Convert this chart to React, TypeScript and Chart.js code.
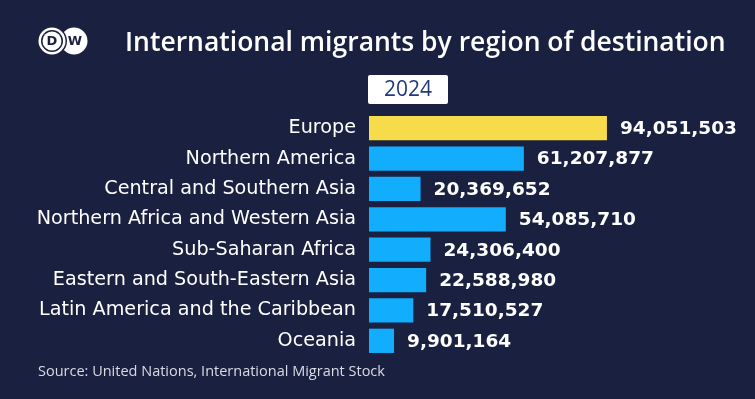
import React, { useEffect, useRef } from "react";
import { Chart, registerables } from "chart.js";

Chart.register(...registerables);

const categories = [
  "Europe",
  "Northern America",
  "Central and Southern Asia",
  "Northern Africa and Western Asia",
  "Sub-Saharan Africa",
  "Eastern and South-Eastern Asia",
  "Latin America and the Caribbean",
  "Oceania",
];
const migrants = [94051503, 61207877, 20369652, 54085710, 24306400, 22588980, 17510527, 9901164];
const highlight = ["Europe"];
const titleText = "International migrants by region of destination";
const yearText = "2024";
const sourceText = "Source: United Nations, International Migrant Stock";

const BG = "#1a2140";
const BLUE = "#12adfd";
const YELLOW = "#f6dc4a";

const decorPlugin = {
  id: "decor",
  beforeDraw(chart: any) {
    const { ctx, width, height } = chart;
    ctx.save();
    ctx.fillStyle = BG;
    ctx.fillRect(0, 0, width, height);
    ctx.restore();
  },
  afterDraw(chart: any) {
    const { ctx } = chart;
    ctx.save();
    // logo
    const cy = 41;
    const r = 13.5;
    const lx = 52;
    const rx = 74;
    ctx.fillStyle = "#ffffff";
    ctx.beginPath();
    ctx.arc(rx, cy, r, 0, Math.PI * 2);
    ctx.fill();
    ctx.fillStyle = BG;
    ctx.beginPath();
    ctx.arc(lx, cy, r + 1.5, 0, Math.PI * 2);
    ctx.fill();
    ctx.fillStyle = "#ffffff";
    ctx.beginPath();
    ctx.arc(lx, cy, r, 0, Math.PI * 2);
    ctx.fill();
    ctx.fillStyle = BG;
    ctx.beginPath();
    ctx.arc(lx, cy, r - 2.5, 0, Math.PI * 2);
    ctx.fill();
    ctx.fillStyle = "#ffffff";
    ctx.beginPath();
    ctx.arc(lx, cy, r - 4, 0, Math.PI * 2);
    ctx.fill();
    ctx.fillStyle = BG;
    ctx.font = "bold 13px 'DejaVu Sans'";
    ctx.textAlign = "center";
    ctx.textBaseline = "middle";
    ctx.fillText("D", lx, cy + 1);
    ctx.fillText("W", rx + 1, cy + 1);

    // title
    ctx.fillStyle = "#ffffff";
    ctx.font = "600 26.5px 'Open Sans'";
    ctx.textAlign = "left";
    ctx.textBaseline = "alphabetic";
    ctx.fillText(titleText, 125, 51);

    // year box
    ctx.fillStyle = "#ffffff";
    ctx.beginPath();
    (ctx as any).roundRect(368, 75, 80, 29, 2);
    ctx.fill();
    ctx.fillStyle = "#213a7c";
    ctx.font = "21px 'Open Sans'";
    ctx.textAlign = "center";
    ctx.textBaseline = "middle";
    ctx.fillText(yearText, 408, 90);

    // source
    ctx.fillStyle = "#d8dbe4";
    ctx.font = "14.5px 'Open Sans'";
    ctx.textAlign = "left";
    ctx.textBaseline = "middle";
    ctx.fillText(sourceText, 38, 372);

    // value labels
    const meta = chart.getDatasetMeta(0);
    ctx.fillStyle = "#ffffff";
    ctx.font = "bold 18.5px 'DejaVu Sans'";
    ctx.textAlign = "left";
    ctx.textBaseline = "middle";
    meta.data.forEach((bar: any, i: number) => {
      ctx.fillText(migrants[i].toLocaleString("en-US"), bar.x + 13, bar.y + 1);
    });
    ctx.restore();
  },
};

export default function App() {
  const ref = useRef<HTMLCanvasElement>(null);
  useEffect(() => {
    if (!ref.current) return;
    const chart = new Chart(ref.current, {
      type: "bar",
      data: {
        labels: categories,
        datasets: [
          {
            data: migrants,
            backgroundColor: categories.map((c) => (highlight.includes(c) ? YELLOW : BLUE)),
            borderWidth: 0,
            barPercentage: 0.8,
            categoryPercentage: 1,
          },
        ],
      },
      options: {
        indexAxis: "y",
        animation: false,
        responsive: true,
        maintainAspectRatio: false,
        layout: { padding: { left: 0, top: 113, right: 133, bottom: 43 } },
        plugins: { legend: { display: false }, tooltip: { enabled: false } },
        scales: {
          x: { display: false, min: 0, max: 100000000 },
          y: {
            grid: { display: false, drawTicks: false },
            border: { display: false },
            ticks: {
              color: "#ffffff",
              padding: 13,
              font: { family: "'DejaVu Sans'", size: 19.2 },
            },
            afterFit(scale: any) {
              scale.width = 369;
            },
          },
        },
      },
      plugins: [decorPlugin],
    });
    return () => chart.destroy();
  }, []);
  return (
    <div style={{ position: "fixed", left: 0, top: 0, width: 755, height: 399, background: BG }}>
      <canvas ref={ref} />
    </div>
  );
}
